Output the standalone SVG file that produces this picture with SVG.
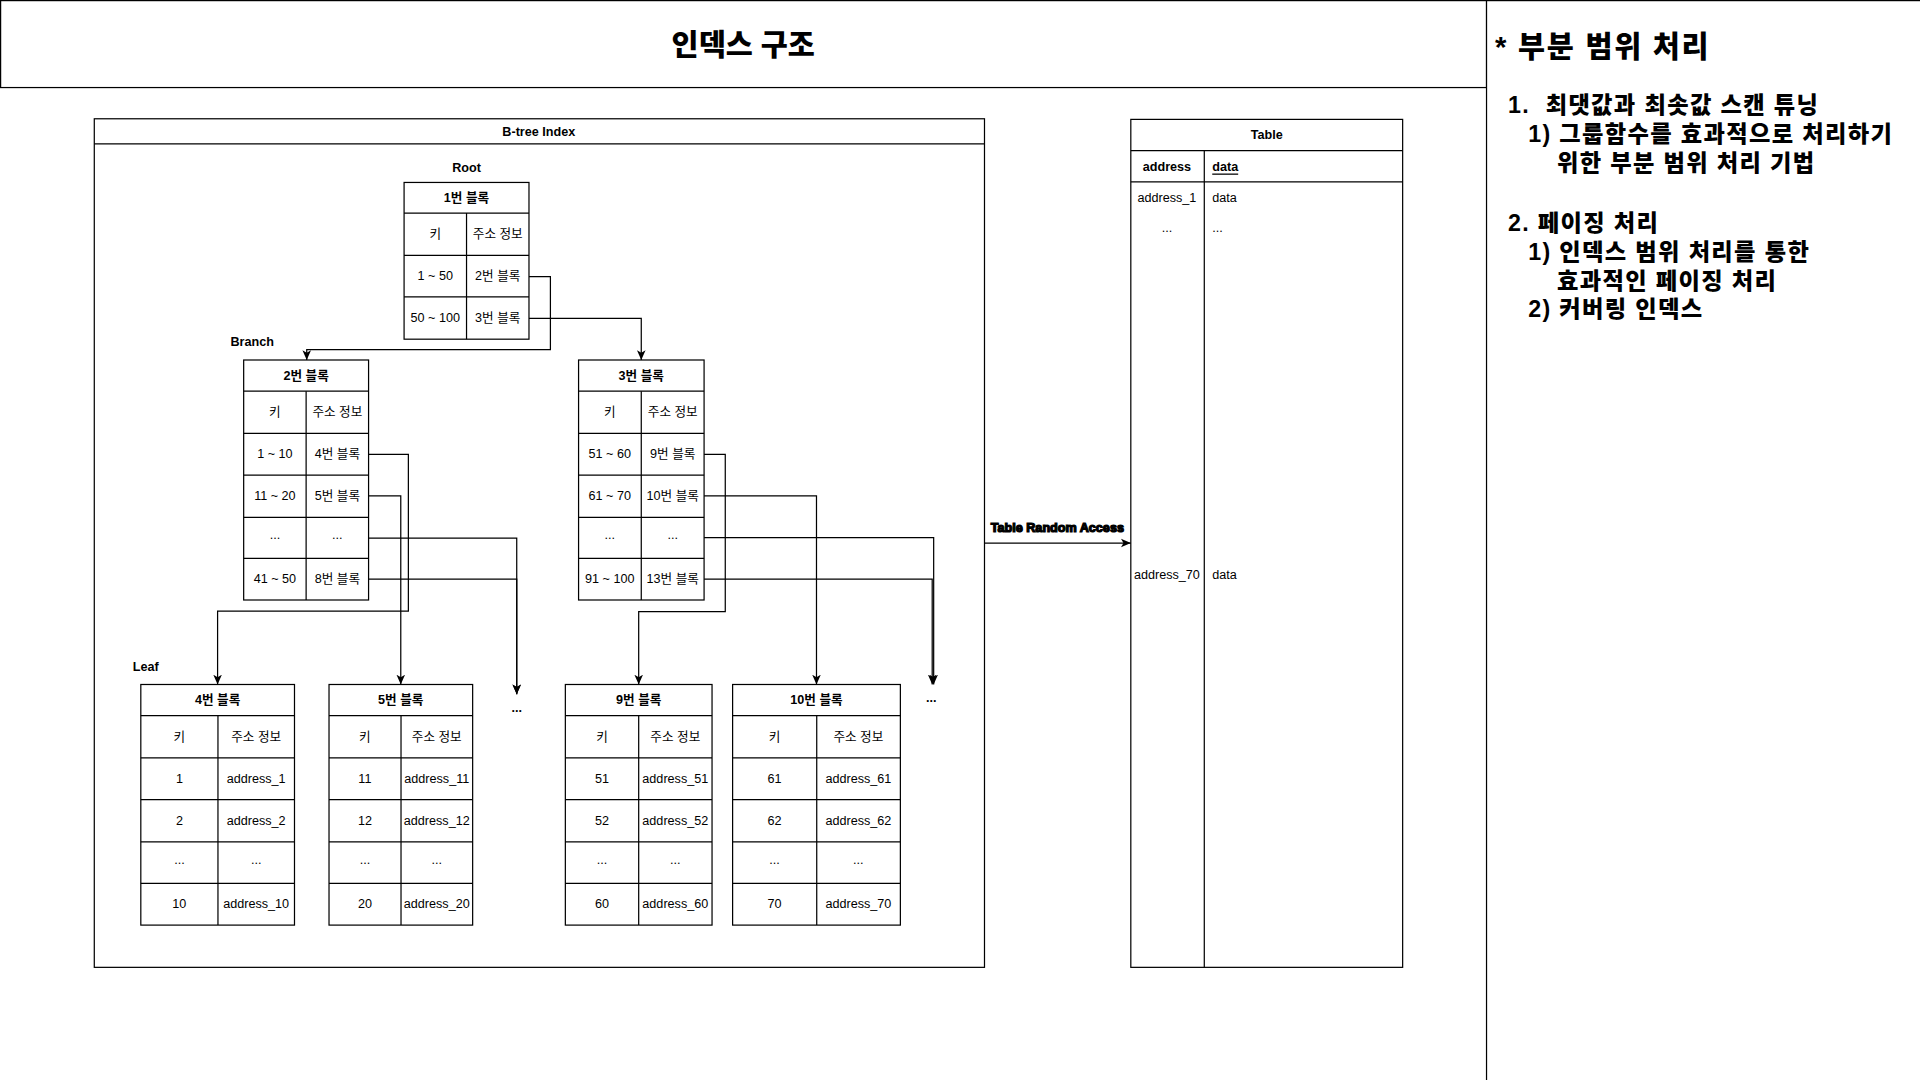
<svg xmlns="http://www.w3.org/2000/svg" width="1920" height="1080" viewBox="0 0 1920 1080">
<defs>
<style>
.t{font-family:"Liberation Sans","Noto Sans CJK KR",sans-serif;font-size:10.3px;text-anchor:middle;dominant-baseline:central;fill:#000}
.s{text-anchor:start}
.b{font-weight:bold}
.box{fill:#fff;stroke:#000;stroke-width:1}
.ln{stroke:#000;stroke-width:1;fill:none}
.k{font-family:"Liberation Sans","Noto Sans CJK KR",sans-serif;font-weight:900;fill:#000}
</style>
<marker id="arr" markerWidth="8" markerHeight="8" viewBox="0 0 8 8" refX="8" refY="4" orient="auto" markerUnits="userSpaceOnUse">
<path d="M0,0.5 L8,4 L0,7.5 L2,4 Z" fill="#000"/>
</marker>
</defs>
<rect width="1920" height="1080" fill="#fff"/>
<g transform="scale(1.2244898)">
<g id="title">
<rect class="box" x="0.5" y="0.5" width="1213.5" height="71"/>
<text class="k" x="607" y="45" font-size="24" text-anchor="middle">인덱스 구조</text>
</g>
<g id="notes">
<rect class="box" x="1214" y="0.5" width="370" height="900"/>
<text class="k" x="1221" y="46.5" font-size="24" letter-spacing="1.4">* 부분 범위 처리</text>
<text class="k" font-size="19" letter-spacing="1.1"><tspan x="1231.5" y="92">1.&#160; 최댓값과 최솟값 스캔 튜닝</tspan><tspan x="1248" y="116">1) 그룹함수를 효과적으로 처리하기</tspan><tspan x="1271.5" y="139.5">위한 부분 범위 처리 기법</tspan><tspan x="1231.5" y="189">2. 페이징 처리</tspan><tspan x="1248" y="212.5">1) 인덱스 범위 처리를 통한</tspan><tspan x="1271.5" y="236">효과적인 페이징 처리</tspan><tspan x="1248" y="258.5">2) 커버링 인덱스</tspan></text>
</g>
<g id="btree-index">
<rect class="box" x="77" y="97" width="727" height="693"/>
<line class="ln" x1="77" y1="117.5" x2="804" y2="117.5"/>
<text class="t b" x="440" y="107.5">B-tree Index</text>
<text class="t b" x="381" y="137.5">Root</text>
<text class="t b" x="206" y="279.5">Branch</text>
<text class="t b" x="119" y="544.5">Leaf</text>
<text class="t b" x="422" y="578">...</text>
<text class="t b" x="760.5" y="570">...</text>
</g>
<g id="table">
<rect class="box" x="923.5" y="97.5" width="222" height="692.5"/>
<line class="ln" x1="923.5" y1="123" x2="1145.5" y2="123"/>
<line class="ln" x1="923.5" y1="148.5" x2="1145.5" y2="148.5"/>
<line class="ln" x1="983.5" y1="123" x2="983.5" y2="790"/>
<text class="t b" x="1034.5" y="110.2">Table</text>
<text class="t b" x="953" y="136">address</text>
<text class="t b s" x="990" y="136" text-decoration="underline">data</text>
<text class="t" x="953" y="161.5">address_1</text>
<text class="t s" x="990" y="161.5">data</text>
<text class="t" x="953" y="186">...</text>
<text class="t s" x="990" y="186">...</text>
<text class="t" x="953" y="469.5">address_70</text>
<text class="t s" x="990" y="469.5">data</text>
</g>
<g id="block-1">
<rect class="box" x="330" y="149" width="102" height="128"/>
<line class="ln" x1="330" y1="174" x2="432" y2="174"/>
<line class="ln" x1="330" y1="208.5" x2="432" y2="208.5"/>
<line class="ln" x1="330" y1="242.5" x2="432" y2="242.5"/>
<line class="ln" x1="381" y1="174" x2="381" y2="277"/>
<text class="t b" x="381" y="161.5">1번 블록</text>
<text class="t" x="355.5" y="191.3">키</text>
<text class="t" x="406.5" y="191.3">주소 정보</text>
<text class="t" x="355.5" y="225.5">1 ~ 50</text>
<text class="t" x="406.5" y="225.5">2번 블록</text>
<text class="t" x="355.5" y="259.8">50 ~ 100</text>
<text class="t" x="406.5" y="259.8">3번 블록</text>
</g>
<g id="block-2">
<rect class="box" x="199" y="294" width="102" height="196"/>
<line class="ln" x1="199" y1="319.5" x2="301" y2="319.5"/>
<line class="ln" x1="199" y1="354" x2="301" y2="354"/>
<line class="ln" x1="199" y1="388" x2="301" y2="388"/>
<line class="ln" x1="199" y1="422.5" x2="301" y2="422.5"/>
<line class="ln" x1="199" y1="456" x2="301" y2="456"/>
<line class="ln" x1="250" y1="319.5" x2="250" y2="490"/>
<text class="t b" x="250" y="306.7">2번 블록</text>
<text class="t" x="224.5" y="336.7">키</text>
<text class="t" x="275.5" y="336.7">주소 정보</text>
<text class="t" x="224.5" y="371">1 ~ 10</text>
<text class="t" x="275.5" y="371">4번 블록</text>
<text class="t" x="224.5" y="405">11 ~ 20</text>
<text class="t" x="275.5" y="405">5번 블록</text>
<text class="t" x="224.5" y="437">...</text>
<text class="t" x="275.5" y="437">...</text>
<text class="t" x="224.5" y="473">41 ~ 50</text>
<text class="t" x="275.5" y="473">8번 블록</text>
</g>
<g id="block-3">
<rect class="box" x="472.5" y="294" width="102.5" height="196"/>
<line class="ln" x1="472.5" y1="319.5" x2="575" y2="319.5"/>
<line class="ln" x1="472.5" y1="354" x2="575" y2="354"/>
<line class="ln" x1="472.5" y1="388" x2="575" y2="388"/>
<line class="ln" x1="472.5" y1="422.5" x2="575" y2="422.5"/>
<line class="ln" x1="472.5" y1="456" x2="575" y2="456"/>
<line class="ln" x1="523.7" y1="319.5" x2="523.7" y2="490"/>
<text class="t b" x="523.7" y="306.7">3번 블록</text>
<text class="t" x="498" y="336.7">키</text>
<text class="t" x="549.4" y="336.7">주소 정보</text>
<text class="t" x="498" y="371">51 ~ 60</text>
<text class="t" x="549.4" y="371">9번 블록</text>
<text class="t" x="498" y="405">61 ~ 70</text>
<text class="t" x="549.4" y="405">10번 블록</text>
<text class="t" x="498" y="437">...</text>
<text class="t" x="549.4" y="437">...</text>
<text class="t" x="498" y="473">91 ~ 100</text>
<text class="t" x="549.4" y="473">13번 블록</text>
</g>
<g id="block-4">
<rect class="box" x="115" y="559" width="125.5" height="196.5"/>
<line class="ln" x1="115" y1="584.5" x2="240.5" y2="584.5"/>
<line class="ln" x1="115" y1="619" x2="240.5" y2="619"/>
<line class="ln" x1="115" y1="653" x2="240.5" y2="653"/>
<line class="ln" x1="115" y1="687.5" x2="240.5" y2="687.5"/>
<line class="ln" x1="115" y1="721.5" x2="240.5" y2="721.5"/>
<line class="ln" x1="178" y1="584.5" x2="178" y2="755.5"/>
<text class="t b" x="177.7" y="571.7">4번 블록</text>
<text class="t" x="146.5" y="601.7">키</text>
<text class="t" x="209.2" y="601.7">주소 정보</text>
<text class="t" x="146.5" y="636">1</text>
<text class="t" x="209.2" y="636">address_1</text>
<text class="t" x="146.5" y="670.2">2</text>
<text class="t" x="209.2" y="670.2">address_2</text>
<text class="t" x="146.5" y="702.5">...</text>
<text class="t" x="209.2" y="702.5">...</text>
<text class="t" x="146.5" y="738.5">10</text>
<text class="t" x="209.2" y="738.5">address_10</text>
</g>
<g id="block-5">
<rect class="box" x="268.7" y="559" width="117.3" height="196.5"/>
<line class="ln" x1="268.7" y1="584.5" x2="386" y2="584.5"/>
<line class="ln" x1="268.7" y1="619" x2="386" y2="619"/>
<line class="ln" x1="268.7" y1="653" x2="386" y2="653"/>
<line class="ln" x1="268.7" y1="687.5" x2="386" y2="687.5"/>
<line class="ln" x1="268.7" y1="721.5" x2="386" y2="721.5"/>
<line class="ln" x1="327.5" y1="584.5" x2="327.5" y2="755.5"/>
<text class="t b" x="327.3" y="571.7">5번 블록</text>
<text class="t" x="298" y="601.7">키</text>
<text class="t" x="356.7" y="601.7">주소 정보</text>
<text class="t" x="298" y="636">11</text>
<text class="t" x="356.7" y="636">address_11</text>
<text class="t" x="298" y="670.2">12</text>
<text class="t" x="356.7" y="670.2">address_12</text>
<text class="t" x="298" y="702.5">...</text>
<text class="t" x="356.7" y="702.5">...</text>
<text class="t" x="298" y="738.5">20</text>
<text class="t" x="356.7" y="738.5">address_20</text>
</g>
<g id="block-9">
<rect class="box" x="461.7" y="559" width="119.8" height="196.5"/>
<line class="ln" x1="461.7" y1="584.5" x2="581.5" y2="584.5"/>
<line class="ln" x1="461.7" y1="619" x2="581.5" y2="619"/>
<line class="ln" x1="461.7" y1="653" x2="581.5" y2="653"/>
<line class="ln" x1="461.7" y1="687.5" x2="581.5" y2="687.5"/>
<line class="ln" x1="461.7" y1="721.5" x2="581.5" y2="721.5"/>
<line class="ln" x1="521.6" y1="584.5" x2="521.6" y2="755.5"/>
<text class="t b" x="521.6" y="571.7">9번 블록</text>
<text class="t" x="491.6" y="601.7">키</text>
<text class="t" x="551.5" y="601.7">주소 정보</text>
<text class="t" x="491.6" y="636">51</text>
<text class="t" x="551.5" y="636">address_51</text>
<text class="t" x="491.6" y="670.2">52</text>
<text class="t" x="551.5" y="670.2">address_52</text>
<text class="t" x="491.6" y="702.5">...</text>
<text class="t" x="551.5" y="702.5">...</text>
<text class="t" x="491.6" y="738.5">60</text>
<text class="t" x="551.5" y="738.5">address_60</text>
</g>
<g id="block-10">
<rect class="box" x="598.3" y="559" width="137" height="196.5"/>
<line class="ln" x1="598.3" y1="584.5" x2="735.3" y2="584.5"/>
<line class="ln" x1="598.3" y1="619" x2="735.3" y2="619"/>
<line class="ln" x1="598.3" y1="653" x2="735.3" y2="653"/>
<line class="ln" x1="598.3" y1="687.5" x2="735.3" y2="687.5"/>
<line class="ln" x1="598.3" y1="721.5" x2="735.3" y2="721.5"/>
<line class="ln" x1="667" y1="584.5" x2="667" y2="755.5"/>
<text class="t b" x="666.8" y="571.7">10번 블록</text>
<text class="t" x="632.6" y="601.7">키</text>
<text class="t" x="701" y="601.7">주소 정보</text>
<text class="t" x="632.6" y="636">61</text>
<text class="t" x="701" y="636">address_61</text>
<text class="t" x="632.6" y="670.2">62</text>
<text class="t" x="701" y="670.2">address_62</text>
<text class="t" x="632.6" y="702.5">...</text>
<text class="t" x="701" y="702.5">...</text>
<text class="t" x="632.6" y="738.5">70</text>
<text class="t" x="701" y="738.5">address_70</text>
</g>
<g id="connectors" class="ln">
<path class="ln" d="M432,226 H449.5 V285.5 H250.5 V294" marker-end="url(#arr)"/>
<path class="ln" d="M432,260 H523.7 V294" marker-end="url(#arr)"/>
<path class="ln" d="M301,371 H333.5 V499 H177.7 V559" marker-end="url(#arr)"/>
<path class="ln" d="M301,405 H327.3 V559" marker-end="url(#arr)"/>
<path class="ln" d="M301,439.5 H422 V567" marker-end="url(#arr)"/>
<path class="ln" d="M301,473 H422 V567" marker-end="url(#arr)"/>
<path class="ln" d="M575,371 H592.3 V499.5 H521.6 V559" marker-end="url(#arr)"/>
<path class="ln" d="M575,405 H666.8 V559" marker-end="url(#arr)"/>
<path class="ln" d="M575,439 H762.5 V559" marker-end="url(#arr)"/>
<path class="ln" d="M575,473 H761.3 V559" marker-end="url(#arr)"/>
<path class="ln" d="M804,443.5 H923.5" marker-end="url(#arr)"/>
<text class="t b" x="863.5" y="431">Table Random Access</text>
</g>
</g>
</svg>
